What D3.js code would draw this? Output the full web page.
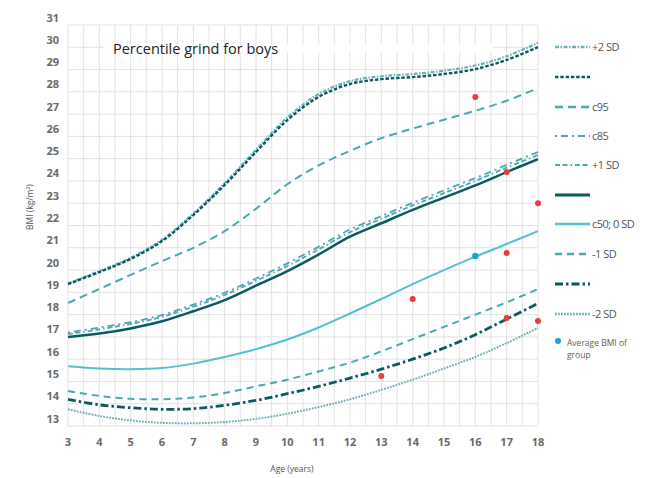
<!DOCTYPE html>
<html><head><meta charset="utf-8">
<script src="https://cdn.jsdelivr.net/npm/d3@7"></script>
<style>body{margin:0;background:#fff}svg{display:block}text{font-family:"Open Sans",sans-serif}</style>
</head><body><svg id="c" width="656" height="478"></svg>
<script>
const ages = [3,4,5,6,7,8,9,10,11,12,13,14,15,16,17,18];
const plus2SD   = [19.40,19.95,20.55,21.36,22.54,23.90,25.40,26.85,27.90,28.48,28.70,28.80,28.95,29.18,29.60,30.20];
const darkDash  = [19.37,19.91,20.50,21.30,22.47,23.82,25.30,26.73,27.77,28.35,28.57,28.66,28.80,29.02,29.43,30.01];
const c95       = [18.52,19.15,19.78,20.40,21.00,21.75,22.75,23.85,24.70,25.35,25.92,26.35,26.75,27.15,27.60,28.17];
const c85       = [17.20,17.42,17.66,17.98,18.45,18.98,19.62,20.30,21.05,21.82,22.42,23.02,23.58,24.13,24.72,25.30];
const plus1SD   = [17.12,17.34,17.58,17.90,18.36,18.88,19.52,20.18,20.93,21.70,22.30,22.90,23.45,24.00,24.60,25.16];
const darkSolid = [17.00,17.15,17.38,17.70,18.15,18.65,19.30,19.95,20.70,21.50,22.10,22.70,23.25,23.80,24.40,24.98];
const c50       = [15.68,15.58,15.55,15.60,15.80,16.10,16.45,16.88,17.42,18.05,18.70,19.37,20.00,20.60,21.17,21.75];
const minus1SD  = [14.57,14.35,14.22,14.20,14.28,14.48,14.78,15.08,15.45,15.85,16.35,16.90,17.45,18.00,18.55,19.15];
const darkDashDot=[14.20,13.95,13.82,13.75,13.78,13.93,14.15,14.45,14.78,15.15,15.55,16.00,16.50,17.10,17.80,18.50];
const minus2SD  = [13.75,13.45,13.25,13.14,13.12,13.18,13.32,13.55,13.85,14.20,14.62,15.08,15.58,16.10,16.72,17.40];
const seriesNames = ["+2 SD","","c95","c85","+1 SD","","c50; 0 SD","-1 SD","","-2 SD"];
const seriesValues = [plus2SD,darkDash,c95,c85,plus1SD,darkSolid,c50,minus1SD,darkDashDot,minus2SD];
const childAges = [16,17,18,17,14,13,17,18];
const childBMI  = [27.77,24.40,23.00,20.76,18.70,15.24,17.85,17.71];
const avgAge = [16], avgBMI = [20.63];
const xTicks = d3.range(3,19);
const yTicks = d3.range(13,32);
const titleText = "Percentile grind for boys";

const styles = [
  {c:"#6db1b6",w:2.2,d:"4,1.5,1.5,1.5"},
  {c:"#0c5a61",w:2.4,d:"3.5,1.8"},
  {c:"#48a9b1",w:2,d:"8,5"},
  {c:"#48a9b1",w:1.8,d:"2,4,7,4"},
  {c:"#48a9b1",w:1.8,d:"5,2.5,5,3,1.5,3"},
  {c:"#0c5a61",w:2.5,d:null},
  {c:"#52c1cc",w:2,d:null},
  {c:"#48a9b1",w:2,d:"7,5"},
  {c:"#0c5a61",w:2.8,d:"8,3,2.5,3"},
  {c:"#6db1b6",w:2,d:"1.8,1.2"}
];

const svg = d3.select("#c");
const x = d3.scaleLinear().domain([3,18]).range([68,538]);
const y = d3.scaleLinear().domain([13,31]).range([426,25]);

const g = svg.append("g");
g.selectAll(".vg").data(d3.range(3,18.01,0.5)).enter().append("line")
 .attr("x1",d=>x(d)).attr("x2",d=>x(d)).attr("y1",y(31)).attr("y2",y(13))
 .attr("stroke","#e2e2e2").attr("stroke-width",1);
g.selectAll(".hg").data(yTicks).enter().append("line")
 .attr("x1",x(3)).attr("x2",x(18)).attr("y1",d=>y(d)).attr("y2",d=>y(d))
 .attr("stroke","#e2e2e2").attr("stroke-width",1);

svg.append("rect").attr("x",103).attr("y",44.5).attr("width",390).attr("height",8).attr("fill","#fff");
svg.append("text").attr("x",113).attr("y",54).attr("font-size",14.5).attr("fill","#222").text(titleText);

svg.selectAll(".yl").data(yTicks).enter().append("text")
 .attr("x",59).attr("y",d=>y(d)-3.5).attr("text-anchor","end")
 .attr("font-size",11).attr("font-weight",700).attr("fill","#6a6a6a").text(d=>d);
svg.selectAll(".xl").data(xTicks).enter().append("text")
 .attr("x",d=>x(d)).attr("y",446).attr("text-anchor","middle")
 .attr("font-size",11).attr("font-weight",700).attr("fill","#6a6a6a").text(d=>d);

svg.append("text").attr("x",292).attr("y",472).attr("text-anchor","middle")
 .attr("font-size",8.5).attr("fill","#555").text("Age (years)");
svg.append("text").attr("transform","translate(33,207) rotate(-90)").attr("text-anchor","middle")
 .attr("font-size",8.5).attr("fill","#555").text("BMI (kg/m²)");

const line = d3.line().x((d,i)=>x(ages[i])).y(d=>y(d)).curve(d3.curveCatmullRom.alpha(0.5));
const order = [9,8,7,6,4,3,5,2,0,1];
order.forEach(k=>{
  const s = styles[k];
  svg.append("path").attr("d",line(seriesValues[k])).attr("fill","none")
    .attr("stroke",s.c).attr("stroke-width",s.w).attr("stroke-dasharray",s.d);
});

svg.selectAll(".rd").data(childAges).enter().append("circle")
 .attr("cx",d=>x(d)).attr("cy",(d,i)=>y(childBMI[i])).attr("r",3).attr("fill","#f0393c");
svg.selectAll(".bd").data(avgAge).enter().append("circle")
 .attr("cx",d=>x(d)).attr("cy",(d,i)=>y(avgBMI[i])).attr("r",3.2).attr("fill","#14a4dc");

const legY = [47,77,107,136,165,195,224,254,284,314];
seriesNames.forEach((n,k)=>{
  const s = styles[k];
  svg.append("line").attr("x1",555).attr("x2",590).attr("y1",legY[k]).attr("y2",legY[k])
    .attr("stroke",s.c).attr("stroke-width",s.w+0.3).attr("stroke-dasharray",s.d);
  if(n) svg.append("text").attr("x",592).attr("y",legY[k]+4).attr("font-size",11)
    .attr("fill","#555").attr("letter-spacing",-0.5).text(n);
});
svg.append("circle").attr("cx",558).attr("cy",341).attr("r",3).attr("fill","#14a4dc");
svg.append("text").attr("x",567).attr("y",346).attr("font-size",8.5).attr("fill","#6b5a4a").text("Average BMI of");
svg.append("text").attr("x",567).attr("y",358).attr("font-size",8.5).attr("fill","#6b5a4a").text("group");
</script></body></html>
